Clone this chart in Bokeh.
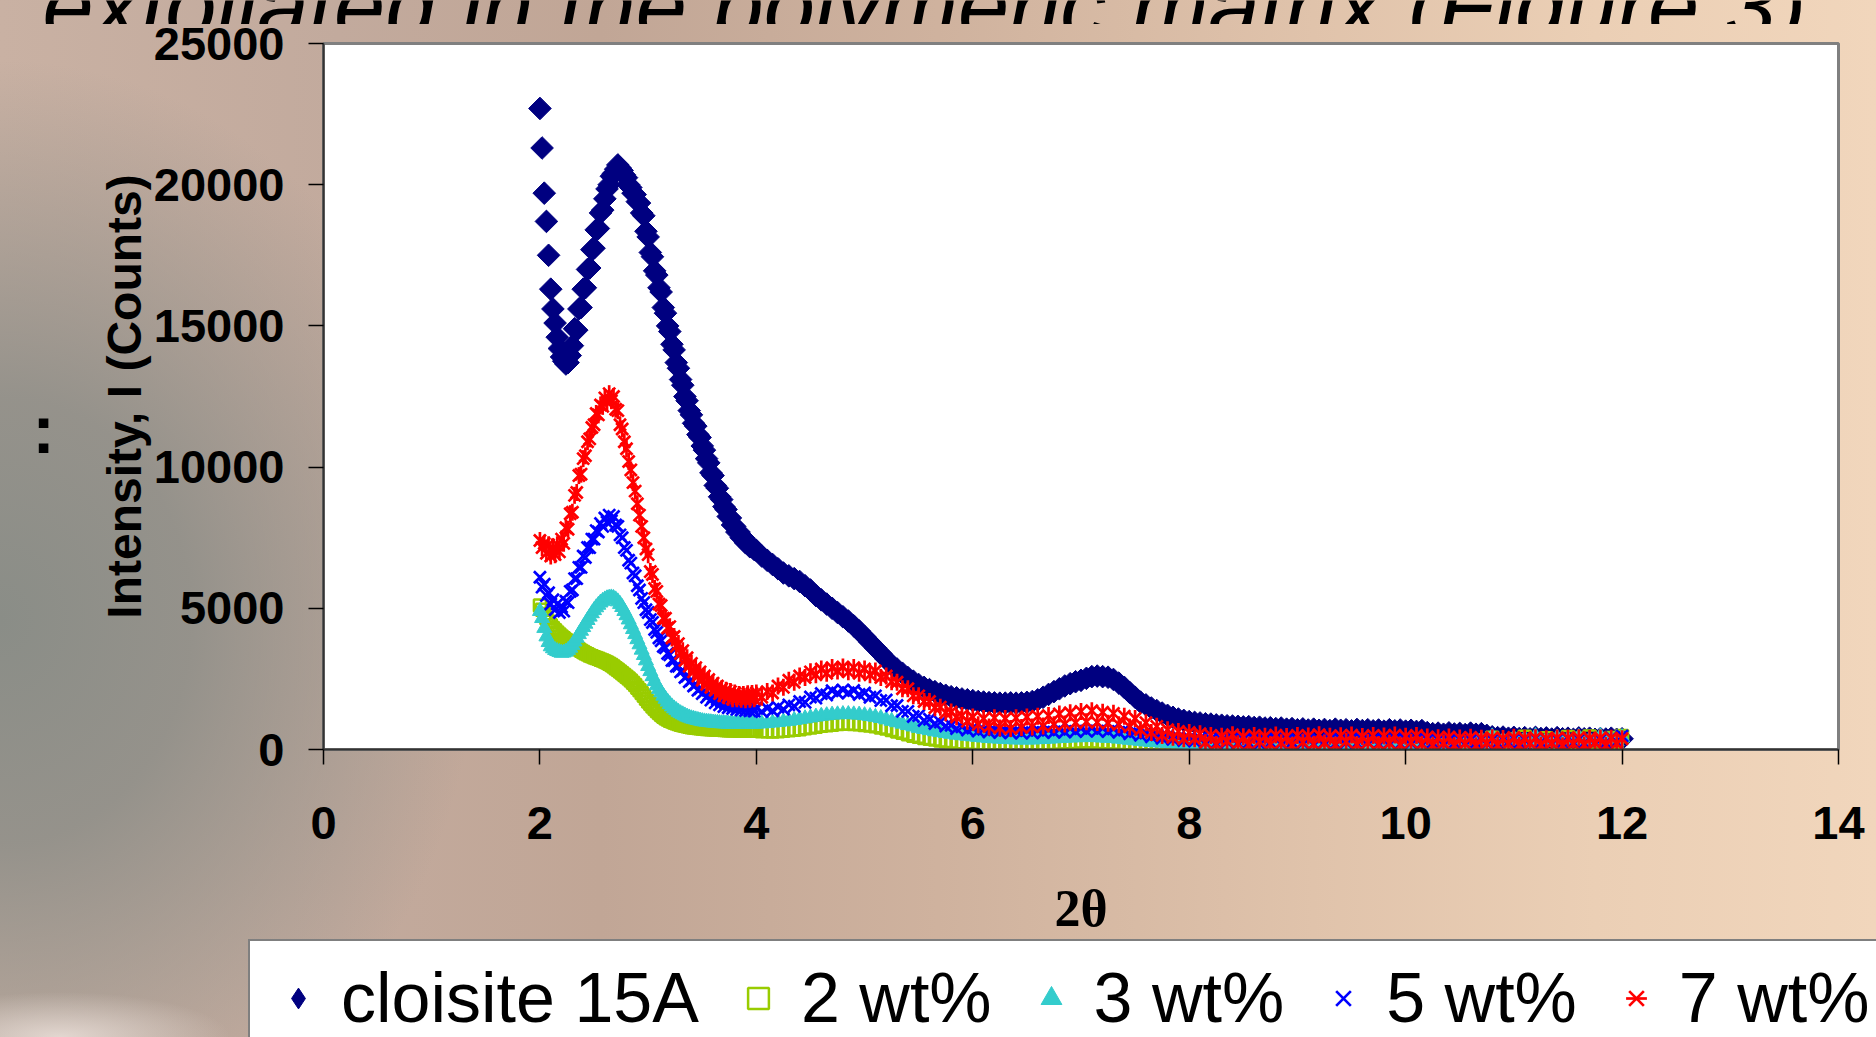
import numpy as np
from bokeh.plotting import figure
from bokeh.layouts import column, row
from bokeh.models import (Range1d, FixedTicker, Legend, LegendItem, Spacer,
                          GlobalInlineStyleSheet)
from bokeh.core.properties import value
from bokeh.embed import file_html
from bokeh.resources import INLINE

# ---------------- data ----------------
# scan positions: 0.02 deg steps up to 4 deg, 0.05 deg steps afterwards
two_theta = np.concatenate([np.round(np.arange(2.00, 4.0001, 0.02), 2),
                            np.round(np.arange(4.05, 12.0001, 0.05), 2)])

cloisite_15a = [
    # 2.00 - 4.00 (0.02)
    22700, 21300, 19700, 18700, 17500, 16300, 15600, 15100, 14600, 14200,
    13900, 13750, 13650, 13700, 13950, 14300, 14900, 14850, 15600, 15650,
    16300, 16350, 17000, 17050, 17700, 17750, 18400, 18450, 19000, 19100,
    19500, 19850, 20000, 20300, 20400, 20550, 20700, 20600, 20500, 20350,
    20250, 20000, 19900, 19700, 19650, 19400, 19350, 19000, 18900, 18350,
    18150, 17600, 17450, 16950, 16800, 16350, 16200, 15650, 15450, 15000,
    14800, 14350, 14150, 13700, 13500, 13100, 12900, 12500, 12350, 12000,
    11850, 11550, 11450, 11150, 11050, 10750, 10600, 10300, 10150, 9800,
    9700, 9350, 9250, 8950, 8850, 8600, 8500, 8250, 8200, 7950,
    7900, 7700, 7700, 7500, 7500, 7320, 7320, 7180, 7180, 7080,
    7050,
    # 4.05 - 8.00 (0.05)
    6850, 6700, 6550, 6400, 6250, 6150, 6050, 5950, 5800, 5650,
    5450, 5300, 5150, 5000, 4850, 4700, 4550, 4380, 4200, 4000,
    3800, 3600, 3400, 3200, 3000, 2850, 2700, 2550, 2420, 2300,
    2200, 2120, 2050, 1980, 1920, 1870, 1830, 1790, 1760, 1730,
    1700, 1680, 1660, 1650, 1640, 1640, 1650, 1640, 1650, 1670,
    1700, 1760, 1850, 1950, 2050, 2150, 2250, 2330, 2400, 2450,
    2520, 2580, 2600, 2580, 2560, 2480, 2350, 2200, 2020, 1850,
    1680, 1580, 1470, 1380, 1290, 1210, 1140, 1080, 1030, 990,
    # 8.05 - 12.00 (0.05)
    960, 940, 910, 900, 870, 860, 840, 830, 820, 800,
    810, 780, 790, 760, 770, 740, 760, 720, 740, 700,
    730, 690, 720, 680, 710, 670, 720, 680, 700, 660,
    710, 670, 700, 660, 690, 650, 700, 660, 690, 650,
    680, 640, 670, 600, 560, 580, 540, 590, 550, 570,
    530, 580, 540, 560, 500, 450, 420, 440, 400, 430,
    390, 420, 380, 430, 390, 410, 370, 420, 380, 400,
    360, 410, 380, 400, 360, 390, 370, 400, 360, 380,
]

wt2 = [
    5100, 4950, 4800, 4650, 4520, 4400, 4300, 4220, 4140, 4070,
    4000, 3940, 3880, 3820, 3760, 3700, 3650, 3600, 3550, 3500,
    3450, 3410, 3370, 3330, 3300, 3270, 3240, 3210, 3180, 3150,
    3120, 3080, 3040, 2990, 2940, 2880, 2820, 2760, 2700, 2640,
    2580, 2510, 2440, 2360, 2280, 2190, 2100, 2000, 1900, 1800,
    1700, 1610, 1520, 1440, 1360, 1290, 1220, 1160, 1110, 1060,
    1020, 990, 960, 930, 900, 880, 860, 840, 820, 805,
    790, 780, 770, 760, 750, 740, 735, 730, 725, 720,
    715, 710, 705, 700, 695, 690, 688, 686, 684, 682,
    680, 678, 676, 674, 672, 670, 668, 666, 664, 662,
    660,
    650, 650, 640, 650, 660, 680, 700, 720, 750, 780,
    810, 840, 860, 880, 900, 910, 910, 900, 890, 870,
    850, 820, 780, 740, 690, 640, 590, 540, 490, 450,
    410, 380, 350, 320, 300, 280, 260, 250, 240, 230,
    220, 210, 200, 200, 190, 190, 180, 180, 180, 180,
    190, 200, 210, 220, 230, 240, 250, 260, 270, 280,
    280, 280, 270, 260, 250, 240, 230, 220, 210, 200,
    190, 180, 170, 160, 150, 150, 140, 140, 130, 130,
    130, 180, 110, 160, 120, 170, 100, 150, 130, 180,
    110, 160, 120, 190, 100, 150, 130, 170, 110, 160,
    120, 180, 100, 150, 140, 190, 110, 160, 120, 170,
    100, 160, 130, 180, 110, 150, 120, 190, 100, 170,
    130, 200, 110, 180, 150, 220, 120, 190, 140, 230,
    160, 250, 140, 300, 180, 420, 200, 280, 170, 350,
    220, 450, 190, 300, 240, 400, 210, 330, 260, 440,
    230, 380, 200, 460, 250, 350, 220, 410, 270, 480,
]

wt3 = [
    4900, 4650, 4300, 4000, 3800, 3650, 3580, 3520, 3480, 3450,
    3420, 3430, 3460, 3520, 3600, 3700, 3820, 3950, 4080, 4200,
    4330, 4450, 4580, 4700, 4820, 4930, 5030, 5120, 5200, 5260,
    5310, 5350, 5370, 5380, 5360, 5310, 5240, 5150, 5040, 4900,
    4750, 4600, 4430, 4260, 4080, 3900, 3720, 3530, 3340, 3150,
    2950, 2770, 2590, 2420, 2270, 2140, 2020, 1900, 1790, 1690,
    1600, 1520, 1450, 1390, 1330, 1280, 1240, 1200, 1160, 1130,
    1100, 1080, 1060, 1040, 1020, 1000, 990, 980, 970, 960,
    950, 945, 940, 930, 925, 920, 915, 910, 905, 900,
    900, 900, 900, 900, 900, 900, 905, 905, 910, 910,
    915,
    920, 930, 950, 970, 990, 1010, 1040, 1070, 1100, 1130,
    1160, 1190, 1210, 1230, 1240, 1250, 1250, 1240, 1230, 1210,
    1180, 1150, 1110, 1060, 1010, 960, 910, 860, 810, 760,
    720, 680, 640, 610, 580, 550, 520, 500, 480, 460,
    440, 420, 400, 390, 380, 370, 360, 350, 350, 350,
    350, 360, 370, 380, 390, 400, 410, 420, 430, 430,
    440, 440, 430, 420, 410, 400, 380, 360, 340, 320,
    300, 280, 260, 250, 240, 230, 220, 210, 200, 190,
    170, 230, 150, 210, 180, 240, 160, 220, 150, 200,
    160, 220, 140, 210, 170, 230, 150, 200, 160, 220,
    150, 210, 170, 230, 140, 200, 160, 220, 150, 210,
    170, 230, 150, 200, 160, 220, 140, 210, 170, 230,
    160, 240, 180, 260, 170, 250, 190, 280, 200, 270,
    210, 300, 220, 350, 240, 460, 230, 320, 250, 400,
    260, 380, 240, 470, 250, 330, 270, 420, 240, 360,
    270, 440, 250, 350, 280, 470, 260, 380, 290, 430,
]

wt5 = [
    6100, 5750, 5850, 5450, 5550, 5150, 5300, 4950, 5150, 4850,
    5050, 4900, 5250, 5200, 5600, 5650, 6050, 6050, 6450, 6450,
    6850, 6800, 7150, 7150, 7450, 7450, 7750, 7700, 8000, 7900,
    8200, 8050, 8300, 8100, 8250, 7950, 7900, 7600, 7500, 7150,
    7050, 6700, 6600, 6250, 6150, 5800, 5650, 5350, 5200, 4950,
    4850, 4600, 4500, 4250, 4150, 3950, 3850, 3650, 3600, 3400,
    3350, 3150, 3150, 2950, 2950, 2750, 2800, 2550, 2600, 2400,
    2450, 2250, 2300, 2100, 2150, 1980, 2050, 1850, 1950, 1750,
    1850, 1650, 1780, 1580, 1700, 1520, 1650, 1480, 1600, 1450,
    1580, 1420, 1550, 1400, 1530, 1380, 1520, 1370, 1500, 1360,
    1480,
    1340, 1460, 1370, 1500, 1430, 1580, 1530, 1700, 1670, 1860,
    1820, 1980, 1930, 2080, 2000, 2110, 2010, 2090, 1950, 2000,
    1850, 1900, 1730, 1750, 1550, 1560, 1350, 1350, 1170, 1200,
    1030, 1070, 920, 970, 830, 860, 740, 800, 690, 760,
    650, 720, 620, 700, 600, 680, 590, 670, 580, 680,
    590, 690, 600, 700, 610, 720, 620, 740, 640, 750,
    650, 760, 650, 750, 640, 730, 610, 690, 560, 640,
    500, 580, 450, 520, 400, 470, 360, 430, 320, 400,
    300, 380, 250, 360, 220, 340, 260, 370, 230, 350,
    240, 360, 210, 340, 250, 370, 220, 330, 260, 350,
    230, 350, 200, 330, 260, 360, 210, 340, 250, 370,
    220, 340, 260, 350, 210, 330, 240, 360, 200, 340,
    230, 360, 210, 330, 250, 340, 200, 320, 240, 350,
    220, 330, 250, 360, 210, 340, 230, 350, 260, 380,
    240, 350, 220, 400, 250, 360, 230, 370, 260, 390,
    250, 370, 230, 380, 260, 350, 240, 420, 270, 480,
]

wt7 = [
    7400, 7150, 7300, 6950, 7250, 6850, 7150, 6900, 7250, 7000,
    7450, 7300, 7850, 7800, 8350, 8400, 9000, 9100, 9700, 9750,
    10300, 10400, 10900, 11000, 11400, 11500, 11900, 11850, 12200, 12150,
    12450, 12300, 12600, 12350, 12500, 12050, 12000, 11500, 11350, 10900,
    10650, 10200, 9900, 9450, 9150, 8700, 8300, 7900, 7500, 7100,
    6900, 6300, 6200, 5700, 5600, 5150, 5100, 4650, 4650, 4300,
    4350, 3950, 4000, 3650, 3750, 3400, 3500, 3150, 3250, 2950,
    3050, 2750, 2900, 2600, 2750, 2450, 2600, 2300, 2480, 2200,
    2350, 2100, 2250, 1980, 2150, 1900, 2100, 1850, 2050, 1800,
    2000, 1800, 1950, 1780, 1950, 1760, 1970, 1780, 1980, 1800,
    2000,
    1850, 2050, 2000, 2250, 2200, 2450, 2380, 2600, 2550, 2750,
    2650, 2850, 2700, 2900, 2780, 2920, 2750, 2900, 2700, 2850,
    2650, 2780, 2550, 2600, 2400, 2380, 2150, 2150, 1900, 1900,
    1700, 1700, 1480, 1500, 1300, 1330, 1150, 1200, 1000, 1150,
    880, 1100, 800, 1120, 760, 1100, 740, 1120, 780, 1150,
    800, 1180, 830, 1200, 880, 1260, 900, 1300, 950, 1350,
    980, 1370, 960, 1320, 930, 1280, 880, 1180, 800, 1100,
    700, 950, 600, 820, 500, 700, 430, 640, 380, 600,
    380, 560, 250, 500, 180, 470, 300, 520, 200, 450,
    160, 500, 280, 470, 180, 510, 240, 460, 150, 500,
    260, 480, 190, 520, 230, 470, 160, 490, 280, 510,
    170, 460, 250, 500, 180, 480, 220, 510, 160, 470,
    260, 500, 190, 440, 150, 420, 230, 440, 140, 410,
    210, 430, 130, 400, 240, 420, 150, 390, 200, 430,
    140, 400, 220, 420, 150, 380, 230, 410, 130, 400,
    200, 420, 160, 390, 240, 410, 140, 400, 210, 380,
]

for s in (cloisite_15a, wt2, wt3, wt5, wt7):
    assert len(s) == len(two_theta), (len(s), len(two_theta))

x_ticks = [0, 2, 4, 6, 8, 10, 12, 14]
y_ticks = [0, 5000, 10000, 15000, 20000, 25000]
series_labels = ["cloisite 15A", "2 wt%", "3 wt%", "5 wt%", "7 wt%"]
header_text = "exfoliated in the polymeric matrix (Figure 3)."

# ---------------- page background ----------------
css = """
html, body { margin: 0; padding: 0; overflow: hidden; }
body {
  background:
    radial-gradient(ellipse 170px 45px at 60px 1037px, rgba(235,224,218,0.85) 0%, rgba(235,224,218,0) 100%),
    radial-gradient(ellipse 480px 560px at 0px 620px, rgba(138,141,135,1) 0%, rgba(142,142,136,0.88) 40%, rgba(150,146,140,0) 100%),
    linear-gradient(90deg, #c9b1a3 0%, #c2aa9d 18%, #c1a696 32%, #cfb29e 50%, #e0c3ab 70%, #ebcfb5 85%, #f1d6bc 100%);
}
"""


def blank_fig(w, h, xr, yr):
    f = figure(width=w, height=h, output_backend="svg", toolbar_location=None,
               x_range=xr, y_range=yr, x_axis_type=None, y_axis_type=None,
               min_border=0)
    f.min_border_left = f.min_border_right = f.min_border_top = f.min_border_bottom = 0
    f.outline_line_color = None
    f.background_fill_color = None
    f.border_fill_color = None
    f.xgrid.grid_line_color = None
    f.ygrid.grid_line_color = None
    return f


# header strip (slide text cut off at the top)
top_fig = blank_fig(1876, 24, Range1d(0, 1876), Range1d(24, 0))
top_fig.text(x=[42], y=[5], text=[header_text], text_font=value("Liberation Sans"),
             text_font_style="italic", text_font_size="92px", text_color="black",
             text_baseline="alphabetic", text_align="left")

# stray colon at left
colon_fig = blank_fig(70, 700, Range1d(0, 70), Range1d(700, 0))
colon_fig.text(x=[43], y=[550], text=[":"], text_font=value("Liberation Sans"),
               text_font_style="bold", text_font_size="68px", text_color="black",
               text_baseline="alphabetic", text_align="center")

# ---------------- main chart ----------------
p = figure(frame_width=1515, frame_height=706, output_backend="svg", toolbar_location=None,
           x_range=Range1d(0, 14), y_range=Range1d(0, 25000))
p.min_border_left = 253
p.min_border_right = 38
p.min_border_top = 19
p.min_border_bottom = 185
p.border_fill_color = None
p.background_fill_color = "white"
p.outline_line_color = "#808080"
p.outline_line_width = 3
p.xgrid.grid_line_color = None
p.ygrid.grid_line_color = None

for ax in (p.xaxis[0], p.yaxis[0]):
    ax.axis_line_color = "#333333"
    ax.axis_line_width = 2
    ax.major_tick_line_color = "black"
    ax.major_tick_line_width = 1.5
    ax.major_tick_out = 15
    ax.major_tick_in = 0
    ax.minor_tick_out = 0
    ax.minor_tick_in = 0
    ax.major_label_text_font = "Liberation Sans"
    ax.major_label_text_font_style = "bold"
    ax.major_label_text_font_size = "47px"
    ax.major_label_text_color = "black"
    ax.axis_label_text_color = "black"

p.xaxis.ticker = FixedTicker(ticks=x_ticks)
p.yaxis.ticker = FixedTicker(ticks=y_ticks)
p.xaxis.major_label_standoff = 42
p.yaxis.major_label_standoff = 24
p.xaxis.axis_label = "2θ"
p.xaxis.axis_label_text_font = "Liberation Serif"
p.xaxis.axis_label_text_font_style = "bold"
p.xaxis.axis_label_text_font_size = "52px"
p.xaxis.axis_label_standoff = 38
p.yaxis.axis_label = "Intensity, I (Counts)"
p.yaxis.axis_label_text_font = "Liberation Sans"
p.yaxis.axis_label_text_font_style = "bold"
p.yaxis.axis_label_text_font_size = "48px"
p.yaxis.axis_label_standoff = 0

styles = [
    dict(marker="square", angle=np.pi / 4, size=16, fill_color="#000080", line_color="#000080", line_width=1),
    dict(marker="square", size=12, fill_color=None, line_color="#99cc00", line_width=2.5),
    dict(marker="triangle", size=15, fill_color="#33cccc", line_color="#33cccc", line_width=1),
    dict(marker="x", size=17, line_color="#0000ff", line_width=2.7),
    dict(marker="x", size=17, line_color="#ff0000", line_width=2.7),
]
red_bar = dict(marker="dash", angle=np.pi / 2, size=17, line_color="#ff0000", line_width=2.7)

series = [cloisite_15a, wt2, wt3, wt5, wt7]
for ys, st in zip(series, styles):
    p.scatter(two_theta, ys, **st)
p.scatter(two_theta, wt7, **red_bar)

# ---------------- legend strip ----------------
# legend swatch renderers: one point each, placed outside the strip's visible range
legend_styles = [dict(styles[0], marker="diamond", angle=0)] + styles[1:]
legend_fig = blank_fig(1628, 110, Range1d(0, 1), Range1d(0, 1))
leg_renderers = []
for st in legend_styles:
    leg_renderers.append([legend_fig.scatter(x=[-5], y=[-5], **st)])
leg_renderers[4].append(legend_fig.scatter(x=[-5], y=[-5], **red_bar))

legend = Legend(items=[LegendItem(label=lab, renderers=rs)
                       for lab, rs in zip(series_labels, leg_renderers)],
                orientation="horizontal", location="top_left")
legend.label_text_font = "Liberation Sans"
legend.label_text_font_size = "70px"
legend.label_text_color = "black"
legend.border_line_color = "black"
legend.border_line_width = 2
legend.background_fill_color = "white"
legend.background_fill_alpha = 1
legend.padding = 17
legend.spacing = 28
legend.margin = 0
legend.glyph_width = 62
legend.glyph_height = 52
legend.label_height = 52
legend.label_standoff = 12
legend_fig.add_layout(legend)

root = column(top_fig,
              row(colon_fig, p),
              row(Spacer(width=248, height=110), legend_fig))
root.stylesheets = [GlobalInlineStyleSheet(css=css)]

open("out.html", "w").write(file_html(root, INLINE))
